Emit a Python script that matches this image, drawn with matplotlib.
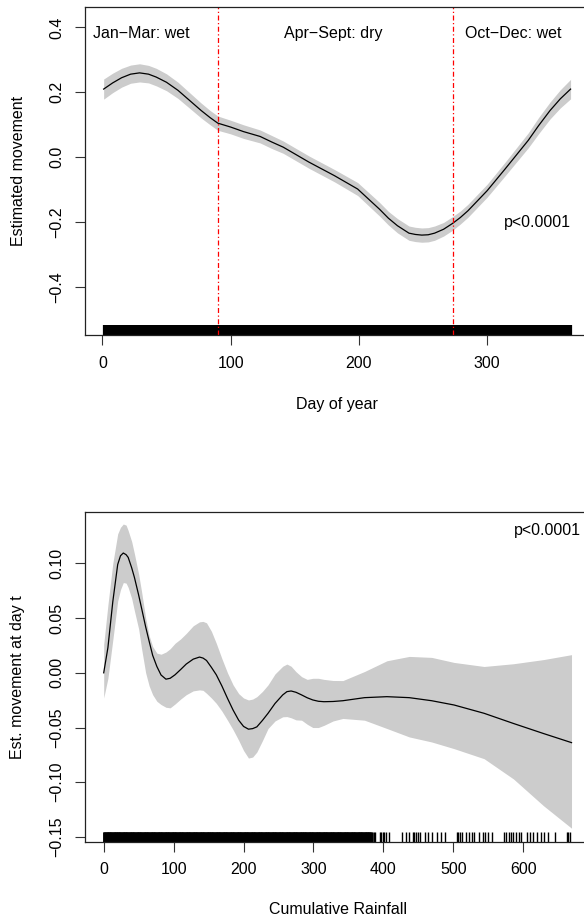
import numpy as np
import matplotlib
matplotlib.use("Agg")
import matplotlib.pyplot as plt

plt.rcParams['font.family'] = ['Liberation Sans', 'DejaVu Sans']
plt.rcParams['font.size'] = 11.5

# smooth of movement against day of year (fit and half width of the band)
days = [1, 8, 15, 22, 29, 36, 42, 50, 59, 68, 77, 84, 90, 100, 110, 123, 132,
        141, 161, 181, 199, 216, 223, 230, 239, 244, 249, 254, 259, 266, 273,
        279, 285, 300, 314, 323, 332, 340, 349, 357, 365]
day_fit = [0.21, 0.229, 0.245, 0.256, 0.26, 0.256, 0.247, 0.231, 0.206, 0.175,
           0.144, 0.122, 0.105, 0.093, 0.079, 0.064, 0.047, 0.031, -0.015,
           -0.057, -0.098, -0.16, -0.188, -0.211, -0.234, -0.238, -0.240,
           -0.239, -0.234, -0.222, -0.204, -0.186, -0.165, -0.103, -0.036,
           0.008, 0.052, 0.097, 0.144, 0.18, 0.21]
day_se = [0.031, 0.030, 0.029, 0.028, 0.028, 0.027, 0.027, 0.026, 0.025, 0.024,
          0.023, 0.022, 0.022, 0.021, 0.021, 0.02, 0.02, 0.019, 0.019, 0.019,
          0.02, 0.021, 0.021, 0.022, 0.022, 0.022, 0.022, 0.022, 0.022, 0.021,
          0.021, 0.02, 0.02, 0.02, 0.021, 0.022, 0.023, 0.025, 0.026, 0.028,
          0.03]
season_breaks = [90, 273]
season_names = ["Jan\u2212Mar: wet", "Apr\u2212Sept: dry", "Oct\u2212Dec: wet"]
season_pos = [30, 180, 320]

# smooth of movement against cumulative rainfall, with upper/lower band
rain = [0, 6, 13, 20, 24, 28, 32, 35, 40, 44, 50, 54, 60, 65, 70, 76, 82, 89,
        95, 102, 110, 118, 128, 137, 142, 147, 154, 161, 169, 177, 185, 193,
        200, 207, 213, 219, 227, 235, 245, 256, 262, 268, 275, 283, 291, 299,
        307, 315, 328, 342, 373, 405, 437, 469, 501, 544, 586, 629, 669]
rain_fit = [0.0, 0.023, 0.065, 0.099, 0.107, 0.1095, 0.108, 0.1055, 0.096,
            0.087, 0.071, 0.0595, 0.042, 0.0288, 0.016, 0.0058, -0.002, -0.0058,
            -0.005, -0.0018, 0.003, 0.008, 0.0125, 0.0144, 0.0135, 0.0113,
            0.005, -0.0018, -0.012, -0.0233, -0.034, -0.0433, -0.049, -0.0515,
            -0.051, -0.0494, -0.0435, -0.037, -0.028, -0.0202, -0.0172, -0.0166,
            -0.0178, -0.0202, -0.0228, -0.0248, -0.026, -0.0264, -0.0262,
            -0.0255, -0.0227, -0.0218, -0.0227, -0.0255, -0.0294, -0.037,
            -0.0463, -0.0555, -0.0638]
rain_hi = [0.026, 0.062, 0.100, 0.127, 0.133, 0.136, 0.135, 0.130, 0.120,
           0.1086, 0.090, 0.0748, 0.050, 0.034, 0.024, 0.018, 0.017, 0.019,
           0.022, 0.027, 0.031, 0.036, 0.043, 0.0466, 0.047, 0.0457, 0.038,
           0.027, 0.013, 0.0, -0.011, -0.019, -0.023, -0.0248, -0.024, -0.0218,
           -0.017, -0.011, -0.001, 0.006, 0.008, 0.006, 0.001, -0.0035,
           -0.006, -0.005, -0.005, -0.006, -0.007, -0.0071, 0.0012, 0.011,
           0.015, 0.0141, 0.0095, 0.0058, 0.0083, 0.0121, 0.0166]
rain_lo = [-0.023, -0.005, 0.030, 0.0656, 0.076, 0.0825, 0.082, 0.078, 0.068,
           0.0564, 0.040, 0.0227, 0.0, -0.012, -0.020, -0.026, -0.029, -0.0315,
           -0.032, -0.0285, -0.024, -0.020, -0.0165, -0.0156, -0.016, -0.0187,
           -0.023, -0.0279, -0.035, -0.0433, -0.052, -0.0617, -0.071, -0.0779,
           -0.077, -0.0724, -0.062, -0.0509, -0.044, -0.0402, -0.040, -0.0411,
           -0.043, -0.0433, -0.047, -0.050, -0.050, -0.048, -0.044, -0.0417,
           -0.0433, -0.0509, -0.0586, -0.0632, -0.0693, -0.0785, -0.097,
           -0.1215, -0.142]

# observed values for the rugs
day_obs = np.arange(1, 366)
rain_obs_dense = np.arange(0, 384)
rain_obs_sparse = [386, 388, 395, 397, 399, 401, 403, 408, 426, 432, 437, 442,
                   444, 446, 449, 452, 459, 464, 469, 476, 483, 488, 505, 507,
                   509, 512, 518, 523, 527, 529, 537, 543, 545, 550, 555, 572,
                   576, 580, 583, 585, 590, 594, 597, 605, 609, 614, 620, 625,
                   629, 635, 645, 662, 664, 667]

day_ticks = [0, 100, 200, 300]
day_yticks = [0.4, 0.2, 0.0, -0.2, -0.4]
day_ylabels = ["0.4", "0.2", "0.0", "\u22120.2", "\u22120.4"]
rain_ticks = [0, 100, 200, 300, 400, 500, 600]
rain_yticks = [0.10, 0.05, 0.0, -0.05, -0.10, -0.15]
rain_ylabels = ["0.10", "0.05", "0.00", "\u22120.05", "\u22120.10", "\u22120.15"]

band = "#CCCCCC"


def style_axes(ax):
    for s in ax.spines.values():
        s.set_linewidth(0.9)
        s.set_color("#222222")
    ax.tick_params(axis="both", length=7, width=0.8, color="#333333", pad=8)
    ax.tick_params(axis="y", labelrotation=90)
    for lab in ax.get_yticklabels():
        lab.set_va("center")


def rug(ax, x, lw):
    ax.vlines(x, 0, 0.03, transform=ax.get_xaxis_transform(),
              color="black", lw=lw)


fig = plt.figure(figsize=(5.84, 9.16), dpi=100)

# --- day of year ---
ax1 = fig.add_axes([0.1455, 0.6346, 0.8635, 0.3574])
d = np.array(days)
f = np.array(day_fit)
se = np.array(day_se)
ax1.fill_between(d, f - se, f + se, color=band, lw=0)
ax1.plot(d, f, color="black", lw=0.9)
rug(ax1, day_obs, 1.6)
for b in season_breaks:
    ax1.axvline(b, color="red", lw=0.9, ls=(0, (4, 2, 1, 2)))
for name, xp in zip(season_names, season_pos):
    ax1.text(xp, 0.38, name, ha="center", va="center")
ax1.text(339, -0.2, "p<0.0001", ha="center", va="center")
ax1.set_xlim(-13.56, 379.56)
ax1.set_ylim(-0.547, 0.462)
ax1.set_xticks(day_ticks)
ax1.set_yticks(day_yticks)
ax1.set_yticklabels(day_ylabels)
ax1.set_xlabel("Day of year", va="center")
ax1.set_ylabel("Estimated movement", va="center")
ax1.xaxis.set_label_coords(0.5, -0.2138)
ax1.yaxis.set_label_coords(-0.1317, 0.5)
style_axes(ax1)

# --- cumulative rainfall ---
ax2 = fig.add_axes([0.1455, 0.0813, 0.8664, 0.3594])
ax2.fill_between(rain, rain_lo, rain_hi, color=band, lw=0)
ax2.plot(rain, rain_fit, color="black", lw=0.9)
rug(ax2, rain_obs_dense, 1.8)
rug(ax2, rain_obs_sparse, 1.0)
ax2.text(635, 0.130, "p<0.0001", ha="center", va="center")
ax2.set_xlim(-26.8, 696.8)
ax2.set_ylim(-0.1542, 0.1467)
ax2.set_xticks(rain_ticks)
ax2.set_yticks(rain_yticks)
ax2.set_yticklabels(rain_ylabels)
ax2.set_xlabel("Cumulative Rainfall", va="center")
ax2.set_ylabel("Est. movement at day t", va="center")
ax2.xaxis.set_label_coords(0.5, -0.207)
ax2.yaxis.set_label_coords(-0.1326, 0.5)
style_axes(ax2)

fig.savefig("out.png", dpi=100)
